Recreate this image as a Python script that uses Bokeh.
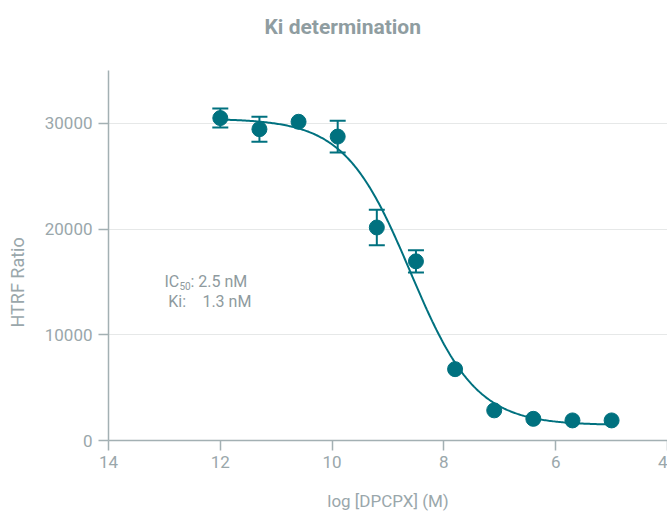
import numpy as np
from bokeh.plotting import figure
from bokeh.models import (Range1d, FixedTicker, ColumnDataSource, Whisker, TeeHead, Label, Title)
from bokeh.embed import file_html
from bokeh.resources import INLINE

# ---- data ----
log_conc = [12.0, 11.3, 10.6, 9.9, 9.2, 8.5, 7.8, 7.1, 6.4, 5.7, 5.0]   # -log[DPCPX] (M)
htrf     = [30500, 29450, 30150, 28750, 20150, 16950, 6750, 2850, 2050, 1900, 1900]
htrf_err = [900, 1180, 0, 1500, 1670, 1050, 0, 0, 0, 0, 0]

# fitted 4-parameter logistic (IC50 2.5 nM from the chart)
fit_top = 30450
fit_bottom = 1450
fit_log_ic50 = 8.6
fit_hill = 0.74

x_ticks = [14, 12, 10, 8, 6, 4]
y_ticks = [0, 10000, 20000, 30000]

TEAL = "#00717f"
GREY_TXT = "#9aa7ab"
GREY_AX = "#a3b0b3"
FONT = "Roboto"

p = figure(width=667, height=516, output_backend="svg", toolbar_location=None,
           x_range=Range1d(14, 4), y_range=Range1d(0, 35000),
           min_border_left=108, min_border_right=0, min_border_top=70, min_border_bottom=76)
p.outline_line_color = None
p.background_fill_color = "white"
p.border_fill_color = "white"

# title (outermost panel), pushed up by an empty spacer panel next to the frame
p.title.text = "Ki determination"
p.title.align = "left"
p.title.offset = 156
p.title.standoff = 0
p.title.vertical_align = "bottom"
p.title.text_font = FONT
p.title.text_font_style = "bold"
p.title.text_font_size = "21px"
p.title.text_color = "#8f9da1"
p.add_layout(Title(text=" ", text_font_size="1px", standoff=29), "above")

# axes
for ax in (p.xaxis, p.yaxis):
    ax.axis_line_color = GREY_AX
    ax.axis_line_width = 1.5
    ax.major_tick_line_color = GREY_AX
    ax.major_tick_line_width = 1.5
    ax.major_tick_in = 0
    ax.major_tick_out = 10
    ax.minor_tick_line_color = None
    ax.major_label_text_color = GREY_TXT
    ax.major_label_text_font = FONT
    ax.major_label_text_font_size = "17px"
    ax.major_label_text_font_style = "normal"

p.xaxis.ticker = FixedTicker(ticks=x_ticks)
p.yaxis.ticker = FixedTicker(ticks=y_ticks)
p.xaxis.major_label_standoff = 5
p.yaxis.major_label_standoff = 6

p.xaxis.axis_label = "log [DPCPX] (M)"
p.xaxis.axis_label_text_font = FONT
p.xaxis.axis_label_text_font_style = "normal"
p.xaxis.axis_label_text_font_size = "17px"
p.xaxis.axis_label_text_color = GREY_TXT
p.xaxis.axis_label_standoff = 20

# y-axis label as a side title (spacer between it and the axis)
p.add_layout(Title(text=" ", text_font_size="1px", standoff=11), "left")
ytitle = Title(text="HTRF Ratio", align="left", offset=113, standoff=0,
               text_font=FONT, text_font_style="normal", text_font_size="18px",
               text_color=GREY_TXT)
p.add_layout(ytitle, "left")

p.xgrid.grid_line_color = None
p.ygrid.grid_line_color = "#e6e8e8"
p.ygrid.grid_line_width = 1.2

# fitted curve
xc = np.linspace(log_conc[0], log_conc[-1], 300)
yc = fit_bottom + (fit_top - fit_bottom) / (1 + 10 ** (fit_hill * (fit_log_ic50 - xc)))
p.line(xc, yc, line_color=TEAL, line_width=2)

# error bars
ex = [x for x, e in zip(log_conc, htrf_err) if e > 0]
ey = [y for y, e in zip(htrf, htrf_err) if e > 0]
ee = [e for e in htrf_err if e > 0]
esrc = ColumnDataSource(dict(x=ex, upper=[y + e for y, e in zip(ey, ee)],
                             lower=[y - e for y, e in zip(ey, ee)]))
wh = Whisker(base="x", upper="upper", lower="lower", source=esrc,
             line_color=TEAL, line_width=2,
             upper_head=TeeHead(size=16, line_color=TEAL, line_width=2),
             lower_head=TeeHead(size=16, line_color=TEAL, line_width=2))
p.add_layout(wh)

# points
p.scatter(log_conc, htrf, size=15, fill_color=TEAL, line_color=TEAL)

# annotations
ann_col = "#8e9a9e"
p.add_layout(Label(x=13.0, y=15050, text="IC", text_align="left", text_baseline="alphabetic",
                   text_font=FONT, text_font_size="16px", text_color=ann_col))
p.add_layout(Label(x=13.0, y=15050, x_offset=15, y_offset=-5, text="50", text_align="left",
                   text_baseline="alphabetic", text_font=FONT, text_font_size="10px",
                   text_color=ann_col))
p.add_layout(Label(x=13.0, y=15050, x_offset=26, text=": 2.5 nM", text_align="left",
                   text_baseline="alphabetic", text_font=FONT, text_font_size="16px",
                   text_color=ann_col))
p.add_layout(Label(x=12.93, y=13150, text="Ki:", text_align="left", text_baseline="alphabetic",
                   text_font=FONT, text_font_size="16px", text_color=ann_col))
p.add_layout(Label(x=12.32, y=13150, text="1.3 nM", text_align="left", text_baseline="alphabetic",
                   text_font=FONT, text_font_size="16px", text_color=ann_col))

open("out.html", "w").write(file_html(p, INLINE))
